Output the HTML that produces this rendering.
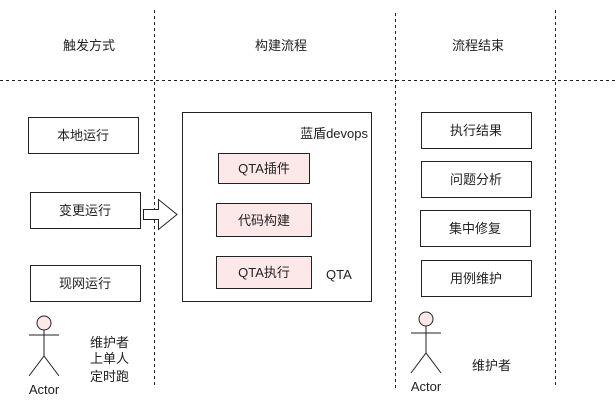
<!DOCTYPE html>
<html><head><meta charset="utf-8"><style>
body{margin:0;background:#fff}
svg text{font-family:"Liberation Sans","Noto Sans CJK SC",sans-serif;font-size:13px;fill:#222}
</style></head><body>
<svg width="616" height="409" viewBox="0 0 616 409" xmlns="http://www.w3.org/2000/svg">
<g stroke="#222" stroke-dasharray="3,3" stroke-width="1">
<line x1="154.5" y1="10" x2="154.5" y2="386"/>
<line x1="395.5" y1="13" x2="395.5" y2="390"/>
<line x1="555.5" y1="10" x2="555.5" y2="386"/>
<line x1="0" y1="80.5" x2="616" y2="80.5"/>
</g>
<g text-anchor="middle">
<text x="89" y="50">触发方式</text>
<text x="281" y="50">构建流程</text>
<text x="478" y="50">流程结束</text>
</g>
<g fill="#fff" stroke="#222">
<rect x="28.5" y="117.5" width="110" height="36"/>
<rect x="30.5" y="192.5" width="110" height="36"/>
<rect x="30.5" y="265.5" width="110" height="36"/>
<rect x="182.5" y="112.5" width="189" height="189"/>
<rect x="421.5" y="112.5" width="110" height="36"/>
<rect x="421.5" y="161.5" width="110" height="36"/>
<rect x="420.5" y="210.5" width="110" height="36"/>
<rect x="421.5" y="260.5" width="110" height="36"/>
</g>
<g fill="#fce8e8" stroke="#222">
<rect x="218.5" y="153.5" width="91" height="30"/>
<rect x="216.5" y="203.5" width="95" height="33"/>
<rect x="216.5" y="256.5" width="95" height="32"/>
</g>
<polygon points="143.5,209.5 158.5,209.5 158.5,199.5 177,214.5 158.5,229.5 158.5,219.5 143.5,219.5" fill="#fff" stroke="#222"/>
<g text-anchor="middle">
<text x="83" y="140">本地运行</text>
<text x="85" y="215">变更运行</text>
<text x="85" y="288">现网运行</text>
<text x="264" y="173">QTA插件</text>
<text x="264" y="225">代码构建</text>
<text x="264" y="277">QTA执行</text>
<text x="476" y="135">执行结果</text>
<text x="476" y="184">问题分析</text>
<text x="475" y="233">集中修复</text>
<text x="476" y="283">用例维护</text>
</g>
<text x="368" y="138" text-anchor="end">蓝盾devops</text>
<text x="326" y="279">QTA</text>
<g stroke="#222" fill="none">
<circle cx="44" cy="323" r="7" fill="#fce8e8"/>
<line x1="44" y1="330" x2="44" y2="356"/><line x1="29" y1="335" x2="59" y2="335"/>
<polyline points="29,376 44,356 59,376"/>
<circle cx="426" cy="319" r="7" fill="#fce8e8"/>
<line x1="426" y1="326" x2="426" y2="353"/><line x1="411" y1="333" x2="441" y2="333"/>
<polyline points="411,373 426,353 441,373"/>
</g>
<text x="44" y="394" text-anchor="middle">Actor</text>
<text x="426" y="391" text-anchor="middle">Actor</text>
<text x="90" y="347">维护者</text>
<text x="90" y="363">上单人</text>
<text x="90" y="381">定时跑</text>
<text x="472" y="370">维护者</text>
</svg>
</body></html>
